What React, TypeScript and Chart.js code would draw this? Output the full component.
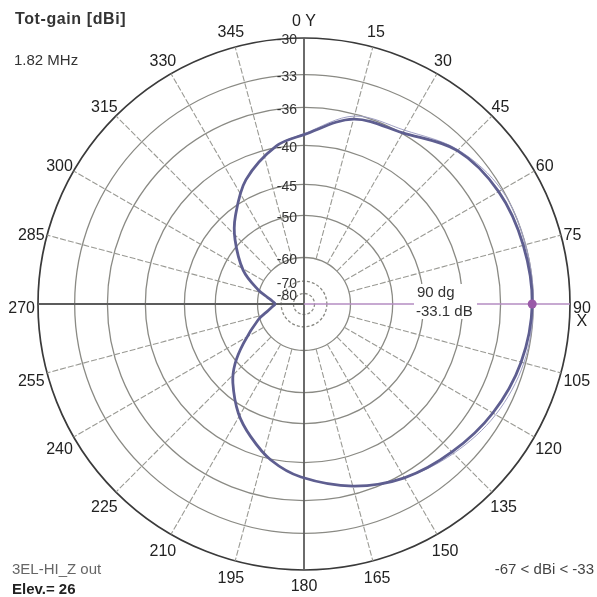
import React, { useEffect, useRef } from 'react';
import { Chart, RadialLinearScale, registerables } from 'chart.js';

Chart.register(...registerables);

// ---------- data ----------
const TITLE_TEXT = 'Tot-gain [dBi]';
const FREQ_TEXT = '1.82 MHz';
const MODEL_TEXT = '3EL-HI_Z out';
const ELEV_TEXT = 'Elev.= 26';
const RANGE_TEXT = '-67 < dBi < -33';

const ANGLE_STEP = 1;
const ANGLE_TICKS = [0, 15, 30, 45, 60, 75, 90, 105, 120, 135, 150, 165, 180, 195, 210, 225, 240, 255, 270, 285, 300, 315, 330, 345];
const AXIS_NAMES: Record<number, string> = { 0: 'Y', 90: 'X' };
const RING_DB = [-80, -70, -60, -50, -45, -40, -36, -33, -30];
const DASHED_RINGS = [-80, -70];
const SPOKE_START_DB = -60;

const GAIN_ANGLES = [0, 15, 30, 45, 60, 75, 90, 105, 120, 135, 150, 165, 181, 192, 202, 211, 222, 229, 237, 251, 260, 265, 270, 275, 280, 287, 299, 313, 322, 335, 350];
const MAIN_GAIN = [-38.8, -36.5, -35.9, -34.1, -33.4, -33.2, -33.1, -33.4, -34.0, -34.8, -35.6, -36.8, -38.4, -39.9, -41.9, -43.9, -47.0, -49.5, -53.3, -59.4, -63.7, -65.4, -66.8, -65.5, -63.4, -59.6, -53.9, -49.0, -46.2, -42.6, -39.8];
const SECOND_GAIN = [-38.7, -36.2, -35.6, -34.0, -33.1, -33.0, -33.0, -33.15, -33.7, -34.6, -35.6, -36.8, -38.4, -39.9, -41.9, -43.9, -47.0, -49.5, -53.3, -59.4, -63.7, -65.4, -66.8, -65.5, -63.4, -59.6, -53.9, -49.0, -46.2, -42.6, -39.8];

const MARKER_ANGLE = 90;
const MARKER_DB = -33.1;

// ---------- styles ----------
const FONT = 'Arial, "Liberation Sans", Helvetica, sans-serif';
const PATTERN_COLOR = '#5e5e90';
const SECOND_COLOR = '#a0a0c4';
const MARKER_COLOR = '#9a5aa8';
const MARKER_LINE = '#b58cc2';
const RING_COLOR = '#8a8a84';
const OUTER_COLOR = '#3a3a3a';
const SPOKE_COLOR = '#9a9a94';
const AXIS_COLOR = '#5c5c5c';

// ARRL-like log radial mapping (fraction of outer radius)
function arrlFraction(db: number, top: number) {
  const x = Math.max(0, top - db);
  return Math.pow(10, -(0.02105 * x + 0.00014 * x * x));
}

class ArrlRadialScale extends RadialLinearScale {
  static id = 'arrlRadial';
  getDistanceFromCenterForValue(value: any) {
    if (value === null || value === undefined || Number.isNaN(value)) return NaN;
    return (this as any).drawingArea * arrlFraction(value, (this as any).max);
  }
}
Chart.register(ArrlRadialScale as any);

const LABELS = Array.from({ length: 360 / ANGLE_STEP }, (_, i) => i * ANGLE_STEP);
const toSeries = (vals: number[]) =>
  LABELS.map((a) => {
    const k = GAIN_ANGLES.indexOf(a);
    return k >= 0 ? vals[k] : null;
  });
const idxOf = (a: number) => Math.round(a / ANGLE_STEP);

const decorPlugin = {
  id: 'polarDecor',
  beforeDraw(chart: any) {
    const { ctx, width, height } = chart;
    ctx.save();
    ctx.fillStyle = '#ffffff';
    ctx.fillRect(0, 0, width, height);
    ctx.restore();
  },
  beforeDatasetsDraw(chart: any) {
    const s = chart.scales.r;
    const ctx: CanvasRenderingContext2D = chart.ctx;
    const cx = s.xCenter;
    const cy = s.yCenter;
    const R = s.drawingArea;
    ctx.save();

    // spokes
    const rIn = s.getDistanceFromCenterForValue(SPOKE_START_DB);
    ctx.strokeStyle = SPOKE_COLOR;
    ctx.lineWidth = 1.1;
    ctx.setLineDash([6, 2]);
    ANGLE_TICKS.forEach((a) => {
      if (a % 90 === 0) return;
      const p1 = s.getPointPosition(idxOf(a), rIn);
      const p2 = s.getPointPosition(idxOf(a), R);
      ctx.beginPath();
      ctx.moveTo(p1.x, p1.y);
      ctx.lineTo(p2.x, p2.y);
      ctx.stroke();
    });
    ctx.setLineDash([]);

    // axes
    const pTop = s.getPointPosition(idxOf(0), R);
    const pBottom = s.getPointPosition(idxOf(180), R);
    const pLeft = s.getPointPosition(idxOf(270), R);
    const pRight = s.getPointPosition(idxOf(MARKER_ANGLE), R);
    ctx.strokeStyle = AXIS_COLOR;
    ctx.lineWidth = 1.8;
    ctx.beginPath();
    ctx.moveTo(pTop.x, pTop.y);
    ctx.lineTo(pBottom.x, pBottom.y);
    ctx.moveTo(pLeft.x, pLeft.y);
    ctx.lineTo(cx, cy);
    ctx.stroke();
    ctx.strokeStyle = MARKER_LINE;
    ctx.lineWidth = 1.6;
    ctx.beginPath();
    ctx.moveTo(cx, cy);
    ctx.lineTo(pRight.x, pRight.y);
    ctx.stroke();

    // marker readout box
    ctx.fillStyle = '#ffffff';
    ctx.fillRect(cx + 110, cy - 20, 63, 35);
    ctx.fillStyle = '#333333';
    ctx.font = `15px ${FONT}`;
    ctx.textAlign = 'left';
    ctx.textBaseline = 'middle';
    ctx.fillText(`${MARKER_ANGLE} dg`, cx + 113, cy - 11);
    ctx.fillText(`${MARKER_DB.toFixed(1)} dB`, cx + 112, cy + 8);

    // ring labels
    ctx.font = `14px ${FONT}`;
    ctx.textAlign = 'right';
    ctx.fillStyle = '#333333';
    RING_DB.forEach((db) => {
      const y = cy - s.getDistanceFromCenterForValue(db) + 2.5;
      ctx.fillText(String(db), cx - 7, y);
    });

    // angle labels
    ctx.font = `16px ${FONT}`;
    ctx.textAlign = 'center';
    ctx.fillStyle = '#222222';
    ANGLE_TICKS.forEach((a) => {
      const name = AXIS_NAMES[a];
      const lines = name ? (a === 0 ? [`${a} ${name}`] : [`${a}`, name]) : [`${a}`];
      const th = (a * Math.PI) / 180;
      const p = s.getPointPosition(idxOf(a), R);
      const w = Math.max(...lines.map((l) => ctx.measureText(l).width));
      const x = p.x + Math.sin(th) * (w / 2 + 3);
      const y = p.y - Math.cos(th) * 16.5 + 5 * Math.abs(Math.sin(th));
      lines.forEach((l, k) => ctx.fillText(l, x, y + k * 13));
    });

    // corner texts
    ctx.textAlign = 'left';
    ctx.textBaseline = 'middle';
    ctx.fillStyle = '#333333';
    ctx.font = `bold 16px ${FONT}`;
    (ctx as any).letterSpacing = '0.6px';
    ctx.fillText(TITLE_TEXT, 15, 20);
    (ctx as any).letterSpacing = '0px';
    ctx.font = `15px ${FONT}`;
    ctx.fillText(FREQ_TEXT, 14, 61);
    ctx.fillStyle = '#666666';
    ctx.fillText(MODEL_TEXT, 12, 570);
    ctx.fillStyle = '#222222';
    ctx.font = `bold 15px ${FONT}`;
    ctx.fillText(ELEV_TEXT, 12, 590);
    ctx.fillStyle = '#444444';
    ctx.font = `15px ${FONT}`;
    ctx.textAlign = 'right';
    ctx.fillText(RANGE_TEXT, 594, 570);

    ctx.restore();
  },
};

export default function App() {
  const ref = useRef<HTMLCanvasElement>(null);
  useEffect(() => {
    const markerIndex = idxOf(MARKER_ANGLE);
    const chart = new Chart(ref.current as HTMLCanvasElement, {
      type: 'radar',
      data: {
        labels: LABELS,
        datasets: [
          {
            label: 'Tot-gain',
            data: toSeries(MAIN_GAIN) as any,
            borderColor: PATTERN_COLOR,
            borderWidth: 2.8,
            fill: false,
            spanGaps: true,
            tension: 0.34,
            pointRadius: (c: any) => (c.dataIndex === markerIndex ? 4.5 : 0),
            pointBackgroundColor: MARKER_COLOR,
            pointBorderWidth: 0,
          },
          {
            label: 'ref',
            data: toSeries(SECOND_GAIN) as any,
            borderColor: SECOND_COLOR,
            borderWidth: 1,
            fill: false,
            spanGaps: true,
            tension: 0.34,
            pointRadius: 0,
          },
        ],
      },
      options: {
        animation: false,
        responsive: false,
        layout: { padding: { left: 38, top: 38, right: 27, bottom: 27 } },
        plugins: { legend: { display: false }, tooltip: { enabled: false } },
        scales: {
          r: {
            type: 'arrlRadial' as any,
            min: -80,
            max: -30,
            startAngle: 0,
            pointLabels: { display: false },
            angleLines: { display: false },
            ticks: { display: false },
            afterBuildTicks: (scale: any) => {
              scale.ticks = RING_DB.map((v) => ({ value: v }));
            },
            grid: {
              circular: true,
              color: (c: any) => (c.tick && c.tick.value === -30 ? OUTER_COLOR : RING_COLOR),
              lineWidth: (c: any) => (c.tick && c.tick.value === -30 ? 1.7 : 1.3),
            },
            border: {
              dash: (c: any) => (c.tick && DASHED_RINGS.includes(c.tick.value) ? [3, 2] : []),
            },
          } as any,
        },
      },
      plugins: [decorPlugin],
    } as any);
    return () => chart.destroy();
  }, []);
  return (
    <div style={{ position: 'absolute', left: 0, top: 0, width: 597, height: 597, background: '#fff' }}>
      <canvas ref={ref} width={597} height={597} style={{ display: 'block' }} />
    </div>
  );
}
